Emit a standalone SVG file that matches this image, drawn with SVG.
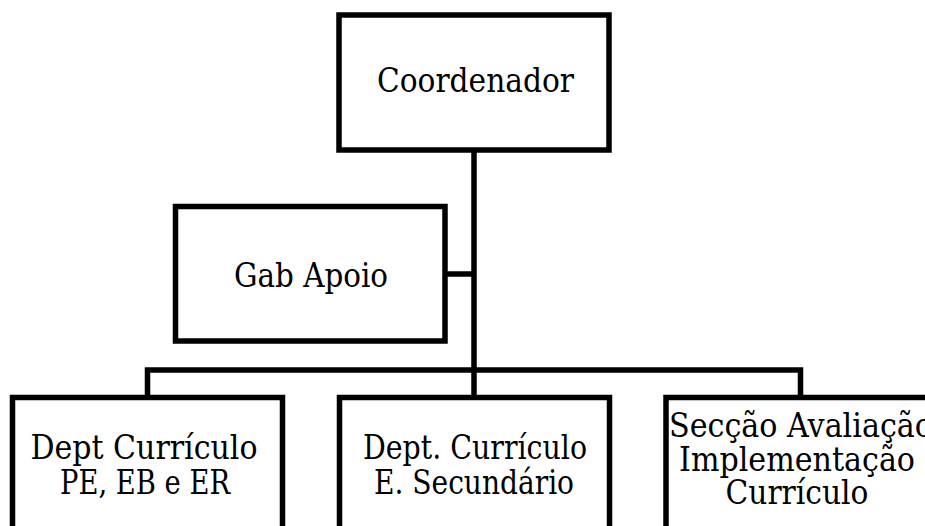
<svg xmlns="http://www.w3.org/2000/svg" width="925" height="526" viewBox="0 0 925 526">
<style>
.box{fill:#fff;stroke:#000;stroke-width:5.5}
.con{fill:none;stroke:#000;stroke-width:5.5}
text{font-family:"DejaVu Serif","Liberation Serif",serif;font-stretch:condensed;font-size:34px;fill:#000;text-anchor:middle}
</style>
<rect width="925" height="526" fill="#fff"/>
<g id="connectors">
<path class="con" d="M474,150 V397.5"/>
<path class="con" d="M445,274 H474"/>
<path class="con" d="M147.5,397.5 V370 H800.5 V397.5"/>
</g>
<g id="coordenador">
<rect class="box" x="339" y="15" width="270" height="135"/>
<text x="475.5" y="92" textLength="197" lengthAdjust="spacingAndGlyphs">Coordenador</text>
</g>
<g id="gab-apoio">
<rect class="box" x="175.5" y="206.5" width="269.5" height="134.5"/>
<text x="311" y="287" textLength="154" lengthAdjust="spacingAndGlyphs">Gab Apoio</text>
</g>
<g id="dept-pe">
<rect class="box" x="12.5" y="397.5" width="270" height="135"/>
<text x="144" y="459" textLength="227" lengthAdjust="spacingAndGlyphs">Dept Currículo</text>
<text x="145" y="494" textLength="170" lengthAdjust="spacingAndGlyphs">PE, EB e ER</text>
</g>
<g id="dept-es">
<rect class="box" x="339.5" y="397.5" width="270" height="135"/>
<text x="475" y="459" textLength="224" lengthAdjust="spacingAndGlyphs">Dept. Currículo</text>
<text x="474" y="494" textLength="200" lengthAdjust="spacingAndGlyphs">E. Secundário</text>
</g>
<g id="seccao">
<rect class="box" x="666" y="397.5" width="270" height="135"/>
<text x="801" y="437" textLength="264" lengthAdjust="spacingAndGlyphs">Secção Avaliação</text>
<text x="797" y="471" textLength="236" lengthAdjust="spacingAndGlyphs">Implementação</text>
<text x="797" y="504" textLength="143" lengthAdjust="spacingAndGlyphs">Currículo</text>
</g>
</svg>
